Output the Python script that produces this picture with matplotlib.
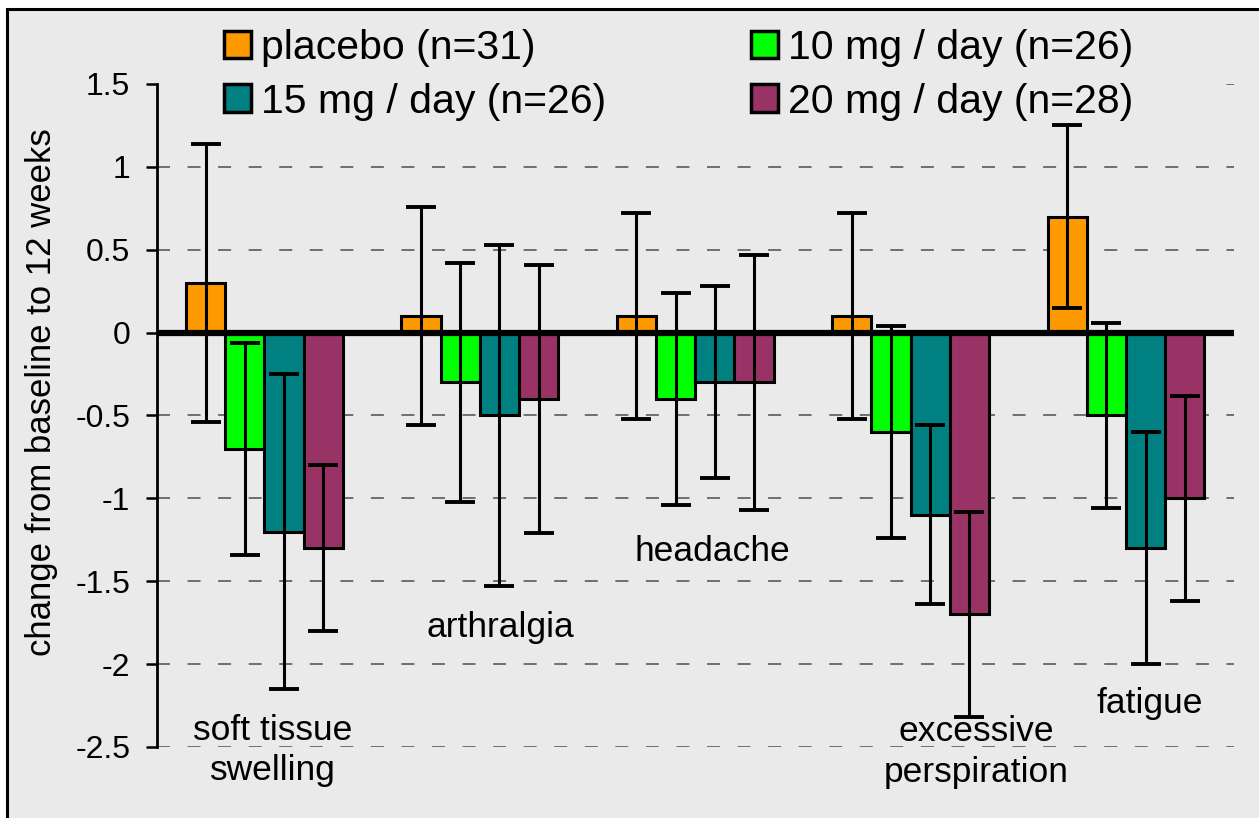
import numpy as np
import matplotlib
matplotlib.use("Agg")
import matplotlib.pyplot as plt
from matplotlib.patches import Rectangle

plt.rcParams['font.family'] = ['Liberation Sans', 'DejaVu Sans']

# symptoms (x groups)
symptoms = ['soft tissue\nswelling', 'arthralgia', 'headache',
            'excessive\nperspiration', 'fatigue']

# treatment arms
arms = ['placebo (n=31)', '10 mg / day (n=26)',
        '15 mg / day (n=26)', '20 mg / day (n=28)']
colors = ['#FF9900', '#00FF00', '#008080', '#993366']

# mean change from baseline, one list per arm
placebo = [0.3, 0.1, 0.1, 0.1, 0.7]
mg10 = [-0.7, -0.3, -0.4, -0.6, -0.5]
mg15 = [-1.2, -0.5, -0.3, -1.1, -1.3]
mg20 = [-1.3, -0.4, -0.3, -1.7, -1.0]

# error bar half-widths
placebo_err = [0.84, 0.66, 0.62, 0.62, 0.55]
mg10_err = [0.64, 0.72, 0.64, 0.64, 0.56]
mg15_err = [0.95, 1.03, 0.58, 0.54, 0.70]
mg20_err = [0.50, 0.81, 0.77, 0.62, 0.62]

yticks = [-2.5, -2, -1.5, -1, -0.5, 0, 0.5, 1, 1.5]
ytick_labels = ['-2.5', '-2', '-1.5', '-1', '-0.5', '0', '0.5', '1', '1.5']

# where the symptom names sit (data coords)
label_x = [0.04, 1.094, 2.078, 3.304, 4.111]
label_y = [-2.52, -1.78, -1.32, -2.53, -2.235]

bg = '#EAEAEA'
W, H = 1259, 818

fig = plt.figure(figsize=(W / 100, H / 100), dpi=100)
fig.patch.set_facecolor('white')
fig.patches.append(Rectangle((7 / W, -0.02), 1.1, 1 - 9 / H + 0.02,
                             transform=fig.transFigure, facecolor=bg,
                             edgecolor='black', linewidth=2.2, zorder=-1))

ax = fig.add_axes([156.7 / W, 71 / H, 1077 / W, 663 / H])
ax.patch.set_visible(False)

x = np.arange(len(symptoms))
width = 0.182
series = [placebo, mg10, mg15, mg20]
errs = [placebo_err, mg10_err, mg15_err, mg20_err]

handles = []
for i, (vals, err, col) in enumerate(zip(series, errs, colors)):
    pos = x + (i - 1.5) * width
    b = ax.bar(pos, vals, width, color=col, edgecolor='black',
               linewidth=2.2, zorder=2, label=arms[i])
    handles.append(b)
    ax.errorbar(pos, vals, yerr=err, fmt='none', ecolor='black',
                elinewidth=2.2, capsize=11, capthick=2.8, zorder=3)

ax.axhline(0, color='black', linewidth=4.5, zorder=4, solid_capstyle='round')

ax.set_xlim(-0.5, 4.5)
ax.set_ylim(-2.5, 1.5)
ax.set_yticks(yticks)
ax.set_yticklabels(ytick_labels, fontsize=23)
ax.set_xticks([])
ax.tick_params(axis='y', direction='out', length=8, width=1.8, pad=11)
for s in ['top', 'right', 'bottom']:
    ax.spines[s].set_visible(False)
ax.spines['left'].set_linewidth(2)
ax.spines['left'].set_bounds(-2.5, 1.5)

ax.set_axisbelow(True)
ax.yaxis.grid(True, color='#4d4d4d', linewidth=1.1,
              linestyle=(0, (8.5, 11.5)))

# the legend area hides the top gridline
ax.add_patch(Rectangle((0, 0.985), 0.978, 0.03, transform=ax.transAxes,
                       facecolor=bg, edgecolor='none', zorder=1,
                       clip_on=False))

for lx, ly, name in zip(label_x, label_y, symptoms):
    ax.text(lx, ly, name, ha='center', va='center', fontsize=25.5,
            linespacing=1.28, zorder=5)

fig.text(42 / W, 1 - 392 / H, 'change from baseline to 12 weeks',
         rotation=90, ha='center', va='center', fontsize=25)

order = [0, 2, 1, 3]
leg = fig.legend([handles[k] for k in order], [arms[k] for k in order],
                 ncol=2, loc='upper left',
                 bbox_to_anchor=(224 / W, 1 - 29 / H),
                 bbox_transform=fig.transFigure,
                 frameon=False, fontsize=29.5, borderpad=0, borderaxespad=0,
                 handlelength=0.66, handleheight=0.66, handletextpad=0.24,
                 columnspacing=3.55, labelspacing=0.38)
for p in leg.get_patches():
    p.set_linewidth(2.5)

fig.savefig('out.png', dpi=100, facecolor='white')
